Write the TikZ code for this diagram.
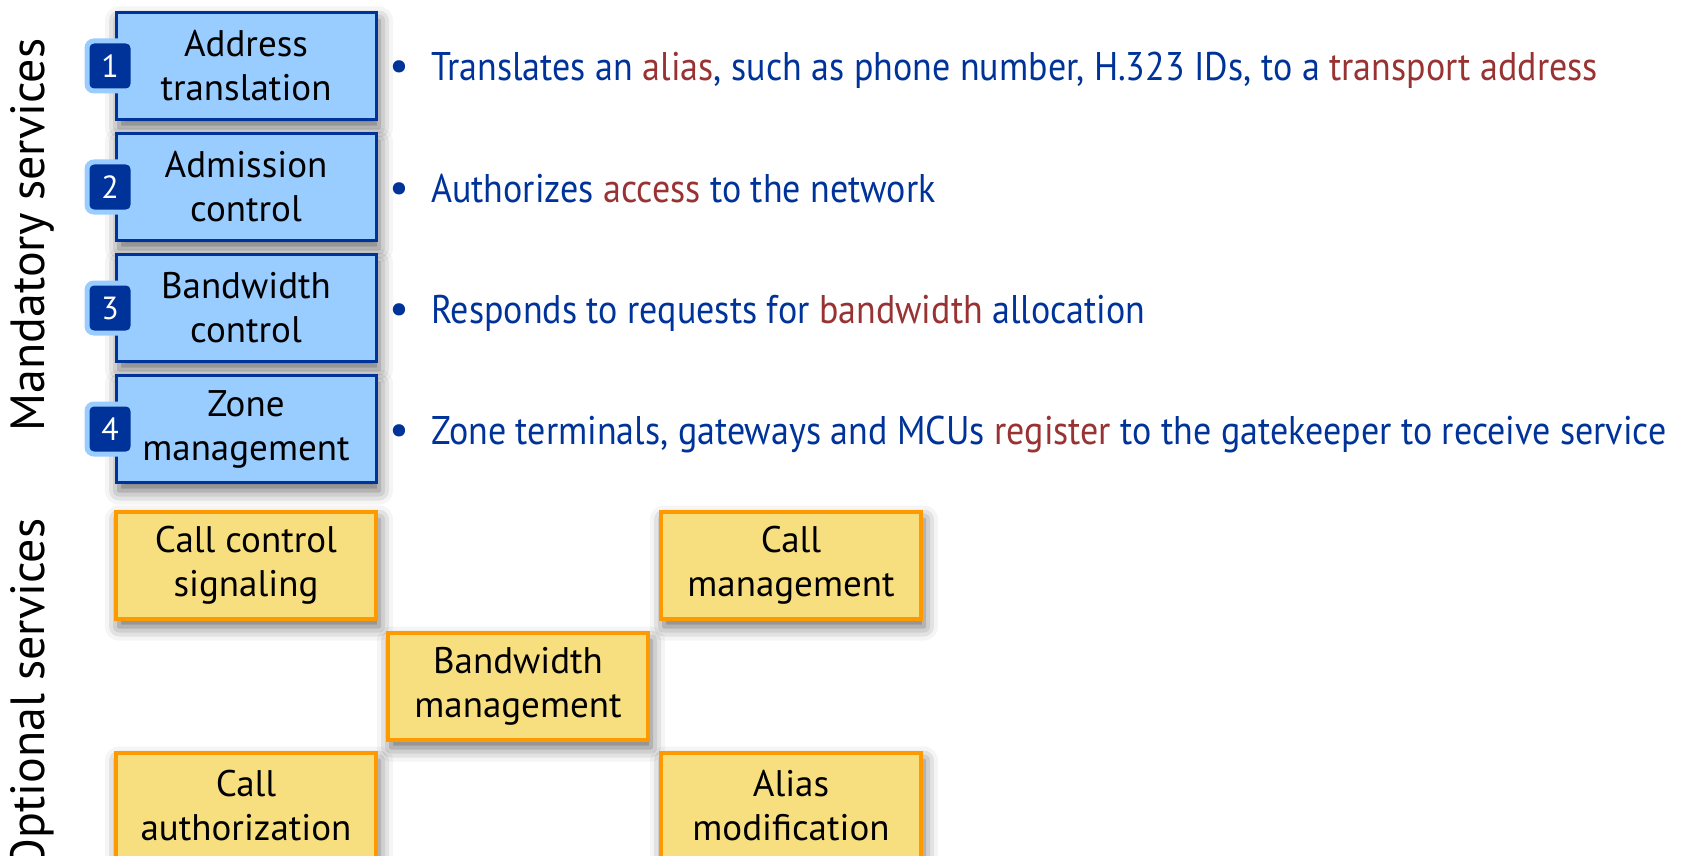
\documentclass[tikz,border=0pt]{standalone}
\usepackage{fontspec}
\setmainfont{PT Sans}
\newfontfamily\descfont{PT Sans}[FakeStretch=0.9]
\usetikzlibrary{shadows.blur}
\definecolor{navy}{RGB}{0,51,153}
\definecolor{skyfill}{RGB}{153,204,255}
\definecolor{hilite}{RGB}{153,51,51}
\definecolor{sandfill}{RGB}{247,223,128}
\definecolor{amber}{RGB}{255,153,0}
\newcommand{\hl}[1]{\textcolor{hilite}{#1}}
\begin{document}
\begin{tikzpicture}[x=1pt,y=-1pt,
  svcbox/.style={rectangle, minimum width=260pt, minimum height=107pt, inner sep=0pt,
    align=center, font=\fontsize{37}{44}\selectfont,
    blur shadow={shadow xshift=3pt, shadow yshift=-8pt, shadow blur radius=14pt, shadow opacity=60}},
  must/.style={svcbox, fill=skyfill, draw=navy, line width=3pt},
  may/.style={svcbox, fill=sandfill, draw=amber, line width=4pt},
  badge/.style={rectangle, rounded corners=7pt, minimum width=46pt, minimum height=50pt,
    inner sep=0pt, fill=navy, draw=skyfill, line width=5pt, text=white,
    font=\fontsize{32}{32}\selectfont},
  dot/.style={text=navy, font=\fontsize{44}{44}\selectfont, inner sep=0pt, anchor=base},
  desc/.style={text=navy, font=\descfont\fontsize{40}{44}\selectfont, anchor=base west, inner sep=0pt},
  side/.style={rotate=90, font=\fontsize{48}{52}\selectfont, inner sep=0pt}
]
\useasboundingbox (0,0) rectangle (1682,856);

% side labels
\node[side] (mand) at (32,235) {Mandatory services};
\node[side] (opt) at (32,695) {Optional services};

% mandatory services
\node[must] (addr) at (246,66)  {Address\\translation};
\node[must] (adm)  at (246,187) {Admission\\control};
\node[must] (bwc)  at (246,308) {Bandwidth\\control};
\node[must] (zone) at (246,429) {Zone\\management};

\node[badge] (n1) at (110,66)  {1};
\node[badge] (n2) at (110,187) {2};
\node[badge] (n3) at (110,308) {3};
\node[badge] (n4) at (110,429) {4};

% descriptions
\node[dot] (d1) at (399,81)  {\textbullet};
\node[dot] (d2) at (399,202) {\textbullet};
\node[dot] (d3) at (399,323) {\textbullet};
\node[dot] (d4) at (399,444) {\textbullet};
\node[desc] (t1) at (431,81)  {Translates an \hl{alias}, such as phone number, H.323 IDs, to a \hl{transport address}};
\node[desc] (t2) at (431,202) {Authorizes \hl{access} to the network};
\node[desc] (t3) at (431,323) {Responds to requests for \hl{bandwidth} allocation};
\node[desc] (t4) at (431,444) {Zone terminals, gateways and MCUs \hl{register} to the gatekeeper to receive service};

% optional services
\node[may] (ccs)  at (246,565) {Call control\\signaling};
\node[may] (cmg)  at (791,565) {Call\\management};
\node[may] (bwm)  at (518,686) {Bandwidth\\management};
\node[may] (cau)  at (246,806) {Call\\authorization};
\node[may] (alias) at (791,806) {Alias\\modification};
\end{tikzpicture}
\end{document}
